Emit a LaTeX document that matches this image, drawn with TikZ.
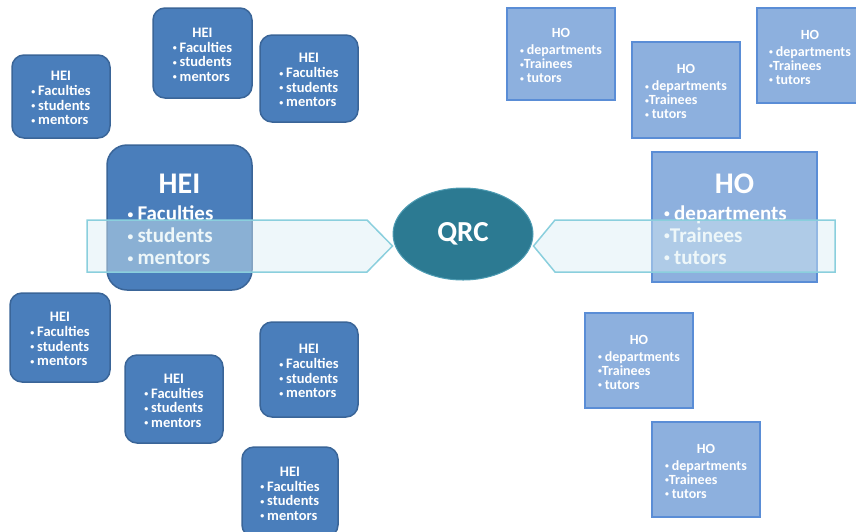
\documentclass[tikz,border=0pt]{standalone}
\usepackage{fontspec}
\setmainfont{Carlito}
\usetikzlibrary{shapes.geometric}

\definecolor{heifill}{HTML}{4A7EBB}
\definecolor{heiline}{HTML}{3A6598}
\definecolor{hofill}{HTML}{8DB0DE}
\definecolor{holine}{HTML}{5A8DD6}
\definecolor{qrcfill}{HTML}{2C7A92}
\definecolor{qrcline}{HTML}{4E9CB3}
\definecolor{bandfill}{HTML}{DAEEF3}
\definecolor{bandline}{HTML}{8ACFDD}

\newcommand{\bul}{\raisebox{.12em}{\scalebox{.55}{\textbullet}}}
\newcommand{\heilist}{\begin{tabular}[t]{@{}l@{}}\bul\hspace{.2em}Faculties\\ \bul\hspace{.2em}students\\ \bul\hspace{.2em}mentors\end{tabular}}
\newcommand{\holist}{\begin{tabular}[t]{@{}l@{}}\bul\hspace{.2em}departments\\ \bul Trainees\\ \bul\hspace{.2em}tutors\end{tabular}}

\begin{document}
\begin{tikzpicture}[x=1pt,y=-1pt,
	  heibox/.style={draw=heiline, line width=1.5pt, fill=heifill, rounded corners=12pt, text=white, align=center, inner sep=0pt, font=\bfseries\fontsize{14.5}{14.5}\selectfont},
	  hobox/.style={draw=holine, line width=1.5pt, fill=hofill, text=white, align=center, inner sep=0pt, font=\bfseries\fontsize{14}{14}\selectfont},
	  band/.style={draw=bandline, line width=1.5pt, fill=bandfill, fill opacity=0.45, line join=miter}]
	  \clip (0,0) rectangle (856,531);   % page
	
	  % small HEI boxes
	  \node[heibox, minimum width=99, minimum height=90] (hei1) at (202.5,53) {\rule{0pt}{17pt}HEI\\[0.5pt]\heilist};
	  \node[heibox, minimum width=98, minimum height=87] (hei2) at (309,78.5) {\rule{0pt}{17pt}HEI\\[0.5pt]\heilist};
	  \node[heibox, minimum width=98, minimum height=83] (hei3) at (61,96.5) {\rule{0pt}{17pt}HEI\\[0.5pt]\heilist};
	  \node[heibox, minimum width=100, minimum height=89] (hei4) at (60,337.5) {\rule{0pt}{17pt}HEI\\[0.5pt]\heilist};
	  \node[heibox, minimum width=98, minimum height=88] (hei5) at (174,399) {\rule{0pt}{17pt}HEI\\[0.5pt]\heilist};
	  \node[heibox, minimum width=98, minimum height=95] (hei6) at (309,369.5) {\rule{0pt}{17pt}HEI\\[0.5pt]\heilist};
	  \node[heibox, minimum width=96, minimum height=90] (hei7) at (290,492) {\rule{0pt}{17pt}HEI\\[0.5pt]\heilist};
	
	  % small HO boxes
	  \node[hobox, minimum width=108, minimum height=92] (ho1) at (561,54) {\rule{0pt}{17pt}HO\\[3pt]\holist};
	  \node[hobox, minimum width=108, minimum height=96] (ho2) at (686,90) {\rule{0pt}{17pt}HO\\[3pt]\holist};
	  \node[hobox, minimum width=106, minimum height=95] (ho3) at (810,55.5) {\rule{0pt}{17pt}HO\\[3pt]\holist};
	  \node[hobox, minimum width=108, minimum height=95] (ho4) at (639,360.5) {\rule{0pt}{17pt}HO\\[3pt]\holist};
	  \node[hobox, minimum width=108, minimum height=95] (ho5) at (706,469.5) {\rule{0pt}{17pt}HO\\[3pt]\holist};
	
	  % big boxes
	  \node[heibox, rounded corners=20pt, minimum width=145, minimum height=145, font=\bfseries\fontsize{21}{22}\selectfont] (bighei) at (179.5,217.5) {\rule{0pt}{30pt}{\fontsize{30}{30}\selectfont HEI}\\[5pt]\heilist\hspace*{18pt}\mbox{}};
	  \node[hobox, minimum width=165, minimum height=130, font=\bfseries\fontsize{21}{22}\selectfont] (bigho) at (734.5,217) {\rule{0pt}{30pt}{\fontsize{30}{30}\selectfont HO}\\[5pt]\holist\hspace*{18pt}\mbox{}};
	
	  \node[ellipse, draw=qrcline, line width=1pt, fill=qrcfill, text=white, minimum width=140, minimum height=92, inner sep=0pt, font=\bfseries\fontsize{29}{30}\selectfont] (qrc) at (463,234) {QRC};
	
	  % bands into QRC
	  \coordinate (mid) at (0,246);
	  \draw[band] (87,220) -- (367,220) -- (qrc.west |- mid) -- (367,272) -- (87,272) -- cycle;
	  \draw[band] (835,220) -- (555,220) -- (qrc.east |- mid) -- (555,272) -- (835,272) -- cycle;
	
	\end{tikzpicture}
\end{document}
